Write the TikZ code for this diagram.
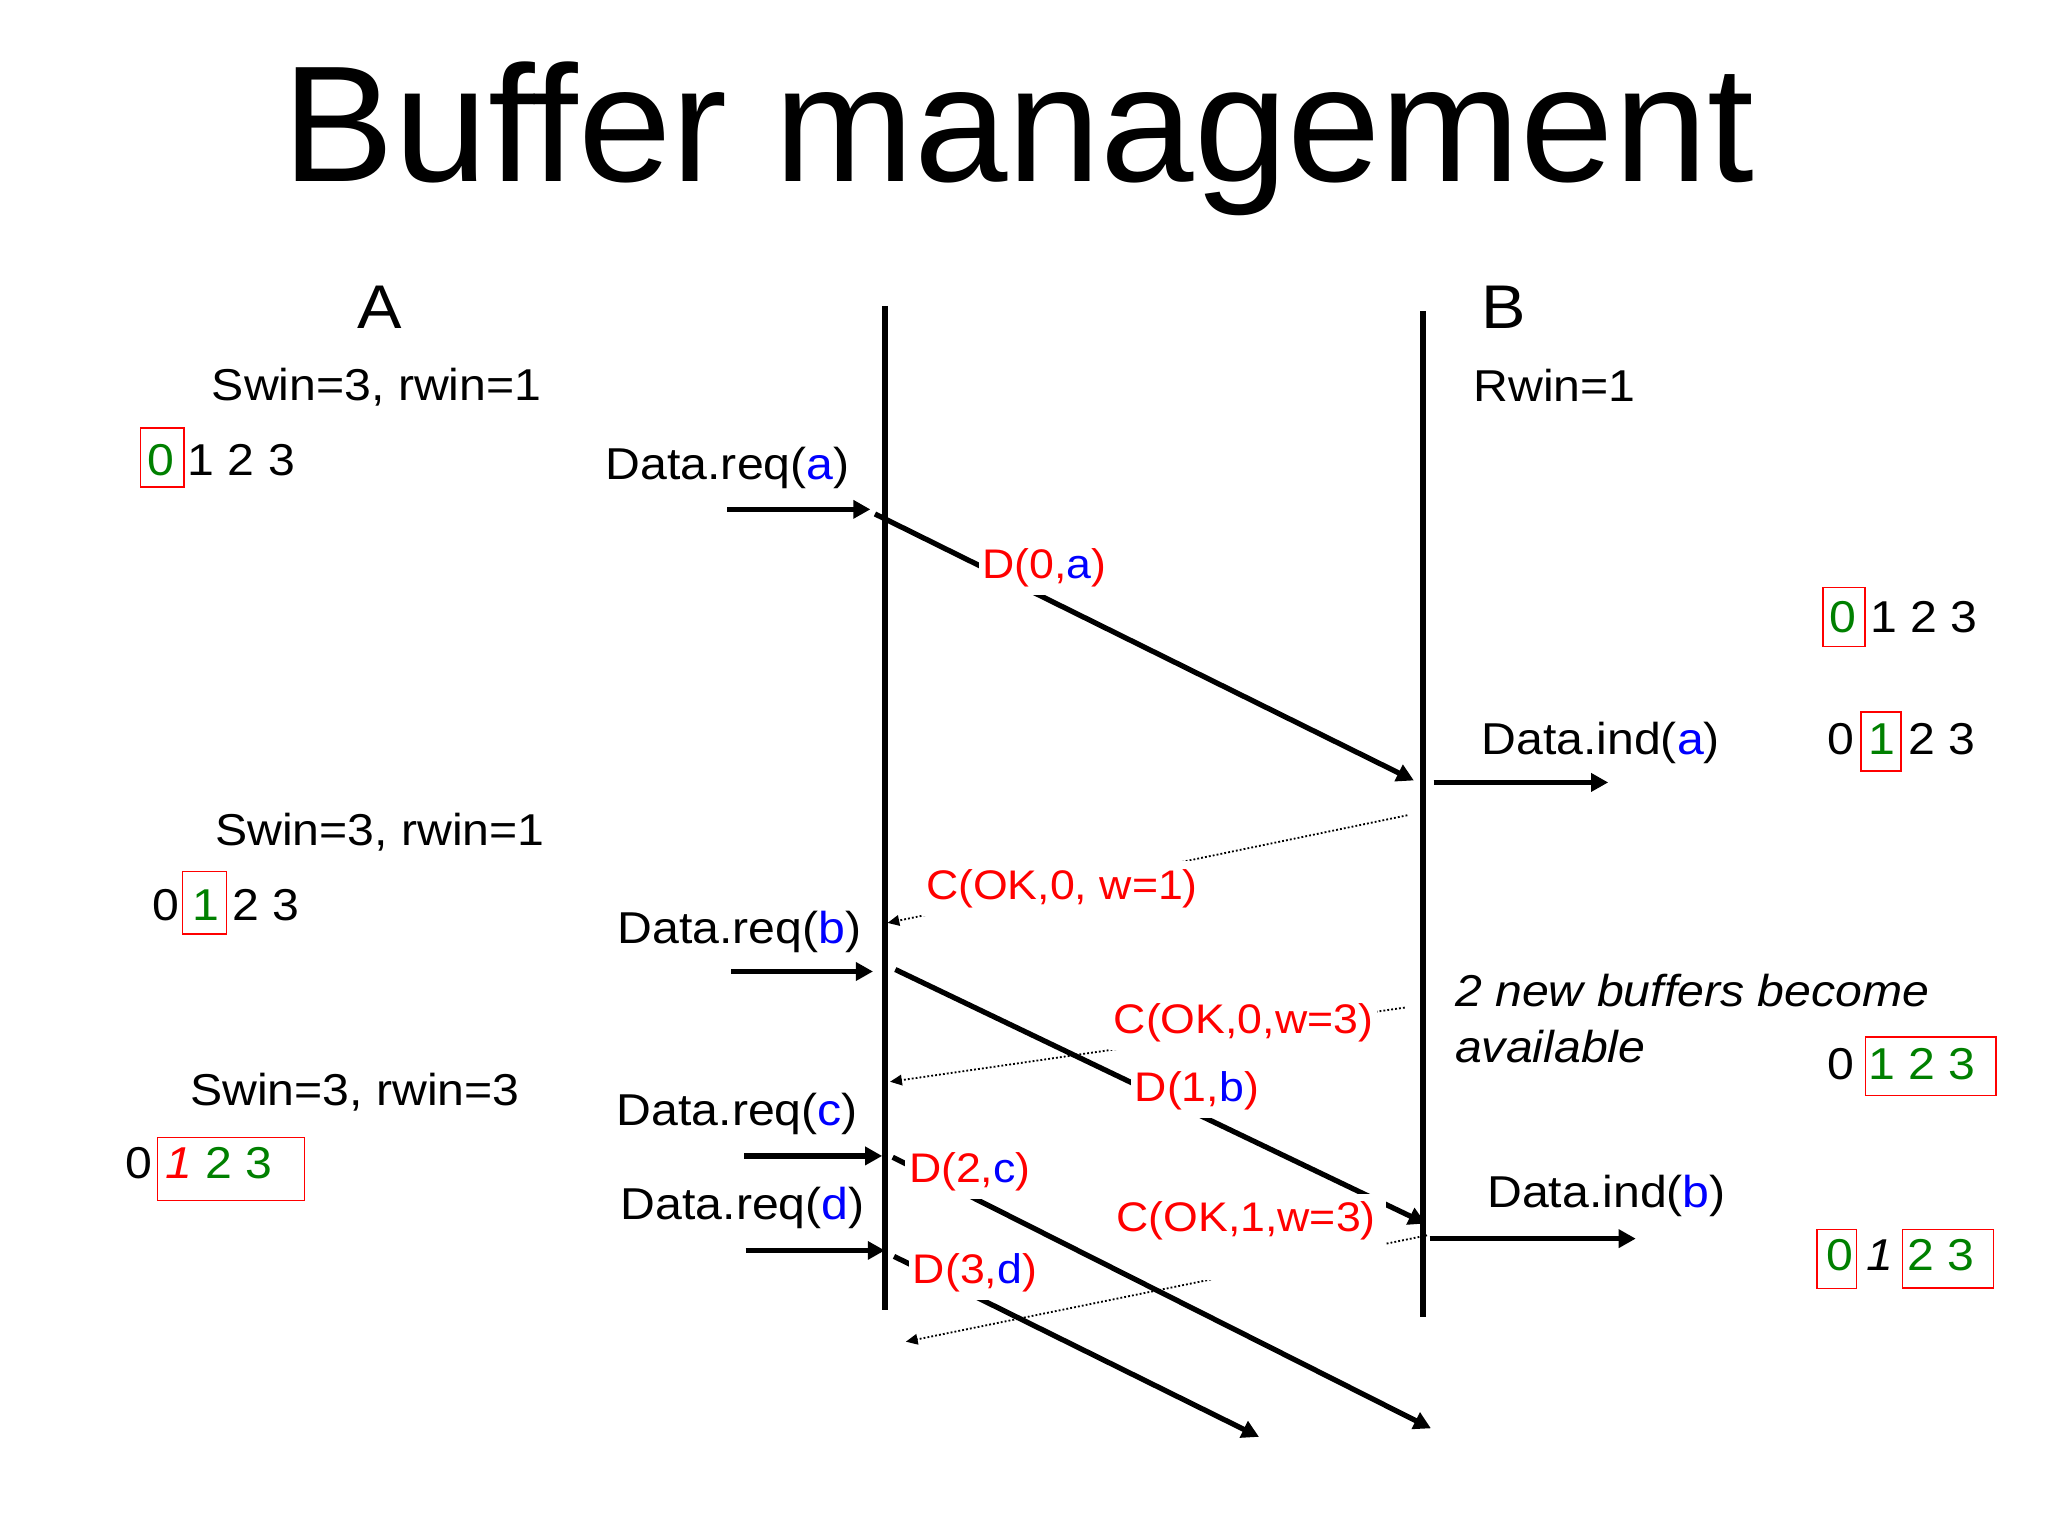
\documentclass[tikz,border=0pt]{standalone}
\usepackage{fontspec}
\setmainfont{Liberation Sans}[FakeStretch=1.08, Ligatures=NoCommon]
\newfontfamily\titlefont{Liberation Sans}[FakeStretch=1.015, Ligatures=NoCommon]
\usepackage{xcolor}
\usetikzlibrary{arrows.meta}

\definecolor{okgreen}{RGB}{0,128,0}
\newcommand{\dat}[1]{\textcolor{blue}{#1}}
\newcommand{\gr}[1]{\textcolor{okgreen}{#1}}

\begin{document}
\begin{tikzpicture}[
  x=0.5pt, y=-0.5pt,
  txt/.style={inner sep=0pt, anchor=base west, font=\fontsize{17}{20}\selectfont},
  side/.style={txt, font=\fontsize{23.5}{28}\selectfont},
  msg/.style={anchor=base west, fill=white, inner xsep=1.5pt, inner ysep=3pt,
              text=red, font=\fontsize{15.75}{19}\selectfont},
  life/.style={line width=2.2pt},
  sig/.style={line width=2pt, -{Triangle[length=6.5pt,width=6.75pt]}},
  ack/.style={line width=0.7pt, dash pattern=on 0.7pt off 0.8pt,
              -{Triangle[length=4.5pt,width=4pt]}},
  slot/.style={draw=red, line width=0.6pt},
]
  \useasboundingbox (0,0) rectangle (1560,1170);

  \node[inner sep=0pt, anchor=base west, font=\titlefont\fontsize{63}{70}\selectfont]
    (title) at (215,138) {Buffer management};

  % lifelines
  \coordinate (Atop) at (674,233);
  \coordinate (Abot) at (674,998);
  \coordinate (Btop) at (1084,237);
  \coordinate (Bbot) at (1084,1003);
  \draw[life] (Atop) -- (Abot);
  \draw[life] (Btop) -- (Bbot);
  \node[side] (A) at (272,250) {A};
  \node[side] (B) at (1128,250) {B};

  % A side: windows and buffers
  \node[txt] (swin1) at (161,305) {Swin=3, rwin=1};
  \node[txt] (abuf1) at (112,362) {\gr{0} 1 2 3};
  \draw[slot] (107,326) rectangle (140,371);
  \node[txt] (swin2) at (163.5,644) {Swin=3, rwin=1};
  \node[txt] (abuf2) at (115.5,701.5) {0 \gr{1} 2 3};
  \draw[slot] (139,664) rectangle (172.5,711.5);
  \node[txt] (swin3) at (144.5,842) {Swin=3, rwin=3};
  \node[txt] (abuf3) at (95,898) {0 \textcolor{red}{\textit{1}} \gr{2 3}};
  \draw[slot] (120,866.5) rectangle (232,914.5);

  % B side: window and buffers
  \node[txt] (rwin) at (1122,306) {Rwin=1};
  \node[txt] (bbuf1) at (1393.5,482) {\gr{0} 1 2 3};
  \draw[slot] (1388.5,447.5) rectangle (1420.5,492.5);
  \node[txt] (bbuf2) at (1392,574.5) {0 \gr{1} 2 3};
  \draw[slot] (1417.5,542.5) rectangle (1448,587.5);
  \node[txt, font=\fontsize{17}{20}\selectfont\itshape] (note1) at (1108,766.5) {2 new buffers become};
  \node[txt, font=\fontsize{17}{20}\selectfont\itshape] (note2) at (1108,809.5) {available};
  \node[txt] (bbuf3) at (1392,822.5) {0 \gr{1 2 3}};
  \draw[slot] (1421,790) rectangle (1520.5,834.5);
  \node[txt] (bbuf4) at (1391,968) {\gr{0} \textit{1} \gr{2 3}};
  \draw[slot] (1384,936.5) rectangle (1414,981.5);
  \draw[slot] (1449,936.5) rectangle (1518.5,981);

  % service primitives
  \node[txt] (reqa) at (461,365) {Data.req(\dat{a})};
  \node[txt] (reqb) at (470,718.5) {Data.req(\dat{b})};
  \node[txt] (reqc) at (469.5,857) {Data.req(\dat{c})};
  \node[txt] (reqd) at (472.5,929) {Data.req(\dat{d})};
  \node[txt] (inda) at (1128,575) {Data.ind(\dat{a})};
  \node[txt] (indb) at (1132.5,920) {Data.ind(\dat{b})};

  \coordinate (ra0) at (554,388);   \coordinate (ra1) at (663,388);
  \coordinate (rb0) at (557,740);   \coordinate (rb1) at (665,740);
  \coordinate (rc0) at (567,880.5); \coordinate (rc1) at (672,880.5);
  \coordinate (rd0) at (568,952.5); \coordinate (rd1) at (674,952.5);
  \coordinate (ia0) at (1092,596);  \coordinate (ia1) at (1225,596);
  \coordinate (ib0) at (1089,943.5);\coordinate (ib1) at (1246,943.5);
  \draw[sig] (ra0) -- (ra1);
  \draw[sig] (rb0) -- (rb1);
  \draw[sig] (rc0) -- (rc1);
  \draw[sig] (rd0) -- (rd1);
  \draw[sig] (ia0) -- (ia1);
  \draw[sig] (ib0) -- (ib1);

  % data frames and control frames
  \coordinate (d0s) at (666.5,391.5); \coordinate (d0e) at (1077,594.5);
  \coordinate (d1s) at (682,738.5);   \coordinate (d1e) at (1086,932);
  \coordinate (d2s) at (680,881.5);   \coordinate (d2e) at (1090,1088);
  \coordinate (d3s) at (681,957);     \coordinate (d3e) at (959,1094.5);
  \coordinate (c0s) at (1072,621);    \coordinate (c0e) at (676,703);
  \coordinate (c1s) at (1070,767.5);  \coordinate (c1e) at (678,824);
  \coordinate (c2s) at (1087,941);    \coordinate (c2e) at (690,1022);
  \draw[sig] (d0s) -- (d0e);
  \draw[sig] (d1s) -- (d1e);
  \draw[ack] (c0s) -- (c0e);
  \draw[ack] (c1s) -- (c1e);
  \draw[ack] (c2s) -- (c2e);
  \node[msg] (d0) at (745,441) {D(0,\dat{a})};
  \node[msg] (c0) at (702,685) {C(OK,0, w=1)};
  \node[msg] (d1) at (861,839) {D(1,\dat{b})};
  \node[msg] (c1) at (845,787) {C(OK,0,w=3)};
  \node[msg, inner xsep=4pt, text depth=15.5pt] (c2) at (842,938) {C(OK,1,w=3)};
  \draw[sig] (d2s) -- (d2e);
  \draw[sig] (d3s) -- (d3e);
  \node[msg] (d2) at (689,901) {D(2,\dat{c})};
  \node[msg] (d3) at (692,978) {D(3,\dat{d})};
\end{tikzpicture}
\end{document}
